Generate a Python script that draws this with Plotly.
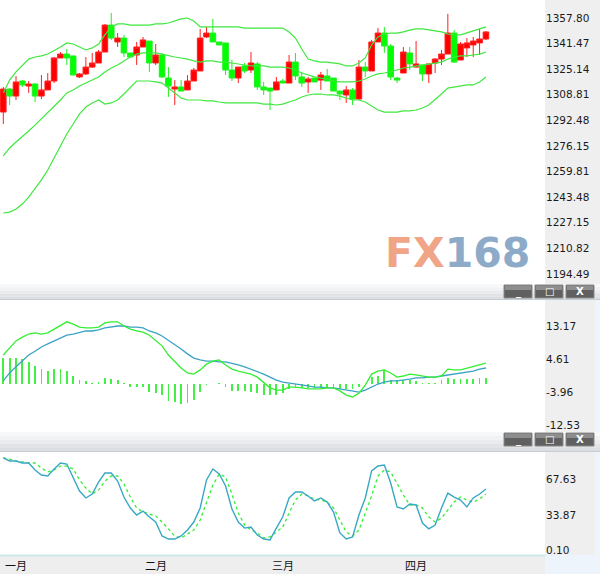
import plotly.graph_objects as go

# ---------------- data ----------------
idx = list(range(77))

open_ = [1297.8, 1312.5, 1308.0, 1317.6, 1314.4, 1315.7, 1308.0, 1311.9, 1317.6, 1332.3,
         1334.8, 1333.6, 1320.2, 1322.1, 1326.5, 1329.1, 1336.1, 1353.3, 1342.5, 1345.0,
         1335.5, 1334.2, 1339.3, 1343.1, 1329.1, 1334.2, 1319.5, 1312.5, 1313.8, 1311.9,
         1317.6, 1324.0, 1345.7, 1348.2, 1342.5, 1341.9, 1324.6, 1319.5, 1327.2, 1324.6,
         1328.5, 1313.8, 1313.1, 1311.9, 1317.6, 1316.3, 1329.7, 1320.2, 1317.0, 1319.5,
         1318.2, 1320.8, 1319.5, 1311.2, 1308.7, 1311.9, 1306.1, 1326.5, 1324.0, 1342.5,
         1348.2, 1339.9, 1319.5, 1322.7, 1335.5, 1326.5, 1327.8, 1322.1, 1329.1, 1331.6,
         1334.8, 1348.2, 1331.0, 1338.7, 1340.6, 1341.9, 1344.4]
high = [1313.8, 1313.1, 1320.8, 1318.2, 1317.6, 1316.3, 1321.4, 1322.7, 1332.9, 1336.1,
        1338.0, 1333.6, 1322.7, 1332.9, 1335.5, 1337.4, 1354.0, 1361.0, 1348.2, 1347.0,
        1335.5, 1342.5, 1345.7, 1343.1, 1341.2, 1335.5, 1326.5, 1318.2, 1318.2, 1321.4,
        1325.9, 1350.8, 1352.1, 1357.2, 1342.5, 1341.9, 1331.0, 1326.5, 1329.1, 1336.1,
        1329.7, 1317.0, 1313.1, 1320.2, 1318.9, 1334.2, 1335.5, 1323.4, 1320.2, 1319.5,
        1323.4, 1325.3, 1319.5, 1311.2, 1314.4, 1313.1, 1331.0, 1329.7, 1343.8, 1351.4,
        1352.1, 1341.2, 1320.2, 1339.3, 1339.3, 1343.1, 1327.8, 1328.5, 1332.3, 1337.4,
        1360.4, 1350.1, 1342.5, 1345.0, 1345.7, 1350.8, 1349.5]
low = [1290.2, 1302.3, 1305.5, 1313.8, 1310.0, 1304.2, 1306.1, 1311.9, 1316.3, 1332.3,
       1327.8, 1321.4, 1319.5, 1321.4, 1325.9, 1329.1, 1336.1, 1343.8, 1339.3, 1332.9,
       1332.9, 1327.8, 1339.3, 1323.4, 1327.8, 1319.5, 1307.4, 1302.3, 1311.2, 1311.9,
       1317.6, 1324.0, 1345.0, 1342.5, 1340.6, 1321.4, 1317.6, 1316.3, 1322.7, 1322.7,
       1311.9, 1308.7, 1299.1, 1311.9, 1316.3, 1316.3, 1318.2, 1313.8, 1310.0, 1317.0,
       1311.9, 1317.6, 1311.2, 1305.5, 1303.6, 1302.3, 1305.5, 1320.2, 1324.0, 1342.5,
       1335.5, 1318.2, 1316.3, 1322.7, 1324.6, 1325.9, 1317.6, 1316.3, 1322.7, 1327.8,
       1334.8, 1329.1, 1331.0, 1332.9, 1332.9, 1334.2, 1343.8]
close = [1312.5, 1308.0, 1317.0, 1315.1, 1315.7, 1308.0, 1311.9, 1317.6, 1332.3, 1334.8,
         1332.3, 1321.4, 1322.1, 1326.5, 1329.1, 1336.1, 1353.3, 1345.0, 1345.0, 1335.5,
         1332.9, 1339.3, 1343.8, 1329.1, 1334.2, 1320.2, 1314.4, 1313.8, 1311.2, 1317.6,
         1324.6, 1345.0, 1348.2, 1342.5, 1340.6, 1324.6, 1319.5, 1326.5, 1324.0, 1329.1,
         1313.8, 1311.9, 1311.2, 1317.0, 1316.3, 1329.7, 1320.8, 1316.3, 1318.9, 1317.0,
         1321.4, 1317.6, 1311.2, 1309.3, 1311.9, 1306.1, 1326.5, 1324.0, 1342.5, 1348.2,
         1339.9, 1320.2, 1318.2, 1336.1, 1328.5, 1328.5, 1322.1, 1328.5, 1331.6, 1334.8,
         1348.2, 1329.7, 1341.2, 1341.9, 1343.1, 1344.4, 1348.9]

boll_upper = [1310.0, 1318.2, 1323.4, 1327.2, 1331.6, 1332.9, 1333.6, 1334.8, 1336.8, 1339.3,
              1341.9, 1341.2, 1339.3, 1337.4, 1338.7, 1341.2, 1347.0, 1352.1, 1354.0, 1354.0,
              1353.3, 1353.3, 1353.3, 1353.3, 1354.0, 1354.0, 1354.6, 1355.9, 1357.2, 1357.8,
              1355.9, 1352.1, 1352.1, 1352.1, 1352.1, 1352.1, 1352.1, 1352.1, 1351.4, 1351.4,
              1351.4, 1351.4, 1351.4, 1351.4, 1351.4, 1348.9, 1345.0, 1338.0, 1331.6, 1330.4,
              1329.7, 1329.7, 1329.1, 1328.5, 1327.2, 1327.2, 1329.1, 1332.3, 1340.6, 1345.7,
              1347.6, 1348.2, 1348.2, 1348.9, 1350.1, 1350.8, 1350.8, 1350.1, 1349.5, 1348.9,
              1347.6, 1347.0, 1347.0, 1348.2, 1349.5, 1350.8, 1352.1]
boll_mid = [1269.8, 1274.9, 1278.7, 1281.9, 1285.7, 1289.5, 1293.4, 1297.8, 1301.7, 1305.5,
            1310.0, 1311.9, 1314.4, 1316.3, 1318.2, 1320.2, 1323.4, 1325.9, 1327.8, 1330.4,
            1332.9, 1334.8, 1335.5, 1335.5, 1335.5, 1334.8, 1333.6, 1332.9, 1332.3, 1331.6,
            1330.4, 1329.7, 1330.4, 1330.4, 1329.7, 1329.7, 1329.1, 1328.5, 1327.8, 1327.2,
            1327.2, 1327.2, 1326.5, 1326.5, 1326.5, 1325.9, 1324.6, 1322.7, 1321.4, 1320.2,
            1319.5, 1318.9, 1317.6, 1317.0, 1317.0, 1317.0, 1317.6, 1318.9, 1320.8, 1322.1,
            1322.7, 1323.4, 1324.6, 1325.9, 1326.5, 1327.2, 1327.8, 1328.5, 1329.1, 1329.7,
            1331.6, 1332.9, 1333.6, 1333.6, 1334.2, 1334.8, 1336.1]
boll_lower = [1233.4, 1234.0, 1236.0, 1239.1, 1243.6, 1248.7, 1254.5, 1260.8, 1268.5, 1276.8,
              1283.8, 1290.2, 1296.6, 1301.0, 1303.6, 1305.5, 1302.9, 1303.6, 1305.5, 1309.3,
              1313.8, 1317.6, 1317.6, 1317.6, 1317.0, 1316.3, 1313.1, 1310.0, 1306.8, 1305.5,
              1305.5, 1305.5, 1304.9, 1304.9, 1304.2, 1303.6, 1303.6, 1303.6, 1303.6, 1303.6,
              1303.6, 1302.9, 1302.9, 1302.3, 1302.9, 1304.2, 1305.5, 1307.4, 1308.7, 1309.3,
              1309.3, 1308.7, 1308.7, 1308.0, 1306.8, 1305.5, 1305.5, 1304.2, 1301.7, 1299.1,
              1297.8, 1297.8, 1297.8, 1298.5, 1298.5, 1299.1, 1300.4, 1302.3, 1305.5, 1309.3,
              1313.1, 1313.8, 1314.4, 1315.1, 1315.1, 1317.0, 1320.2]

macd_dif = [7.6, 9.4, 11.3, 12.3, 13.1, 13.4, 13.1, 13.4, 14.4, 15.5,
            16.3, 15.7, 14.9, 14.7, 14.7, 14.9, 16.0, 16.3, 16.3, 15.2,
            14.4, 13.9, 13.6, 12.8, 11.3, 10.0, 7.6, 5.8, 4.2, 2.9,
            2.6, 3.7, 5.2, 6.0, 6.3, 5.0, 3.9, 3.4, 2.9, 2.6,
            1.8, 0.3, -1.0, -1.6, -1.6, -0.8, -0.8, -1.0, -1.3, -1.3,
            -1.3, -1.0, -1.0, -1.8, -2.9, -3.4, -2.4, -0.3, 2.6, 3.4,
            3.7, 2.9, 1.8, 2.1, 2.6, 2.4, 2.1, 1.8, 1.8, 2.1,
            3.9, 3.7, 3.7, 4.2, 4.5, 5.0, 5.5]
macd_dea = [0.8, 2.9, 4.5, 6.0, 7.6, 8.6, 9.7, 10.5, 11.3, 12.1,
            12.8, 13.1, 13.6, 13.9, 13.9, 14.2, 14.7, 14.9, 15.2, 15.2,
            14.9, 14.9, 14.7, 13.9, 13.4, 12.6, 11.5, 10.5, 9.2, 7.9,
            6.8, 6.3, 6.0, 6.0, 5.8, 5.8, 5.5, 5.0, 4.5, 3.9,
            3.1, 2.6, 1.8, 1.0, 0.5, 0.3, 0.0, -0.3, -0.5, -0.8,
            -0.8, -1.0, -1.0, -1.3, -1.6, -1.8, -2.1, -1.6, -0.8, 0.0,
            0.5, 0.8, 0.8, 1.0, 1.3, 1.6, 1.6, 1.8, 1.8, 2.1,
            2.4, 2.6, 2.9, 3.1, 3.4, 3.9, 4.2]
macd_hist = [6.8, 6.8, 6.8, 6.6, 5.8, 4.7, 3.9, 3.4, 3.9, 3.9,
             3.4, 2.1, 1.0, 0.8, 0.3, 0.5, 1.6, 1.3, 1.0, 0.3,
             -0.8, -0.8, -0.8, -2.1, -2.4, -2.9, -4.5, -4.7, -5.2, -5.0,
             -4.2, -2.1, -0.3, -0.1, 0.3, -0.8, -1.8, -1.8, -1.8, -2.1,
             -2.4, -2.9, -2.9, -2.9, -2.4, -1.3, -1.0, -1.0, -1.0, -1.0,
             -1.0, -1.0, -1.3, -1.3, -1.3, -1.3, -0.8, 0.1, 1.8, 2.1,
             3.7, 1.0, 1.0, 1.0, 1.0, 0.8, 0.3, 0.3, 0.3, 1.0,
             1.6, 1.3, 1.3, 1.3, 1.3, 1.6, 1.6]

stoch_k = [88.2, 85.3, 85.3, 83.4, 83.4, 76.7, 71.9, 71.0, 77.7, 83.4,
           82.4, 70.0, 56.6, 50.0, 53.8, 65.2, 73.8, 73.8, 66.2, 50.9,
           40.4, 33.7, 37.5, 31.8, 27.0, 13.7, 10.8, 10.8, 13.7, 19.4,
           27.0, 40.4, 67.2, 77.7, 72.9, 61.4, 39.5, 27.0, 21.2, 22.2,
           14.6, 10.8, 9.9, 21.2, 31.8, 50.0, 55.7, 55.7, 51.9, 47.1,
           50.0, 46.1, 36.6, 16.6, 10.8, 12.8, 33.7, 50.0, 75.8, 80.5,
           81.5, 64.3, 41.4, 39.5, 44.2, 43.3, 26.1, 20.5, 24.2, 40.4,
           54.7, 50.9, 48.0, 41.4, 50.0, 53.8, 58.6]
stoch_d = [88.2, 87.2, 85.3, 84.3, 83.4, 83.4, 78.6, 74.8, 76.7, 80.5,
           80.5, 77.7, 67.2, 59.5, 53.8, 57.6, 66.2, 71.0, 71.0, 63.3,
           50.9, 40.4, 36.6, 34.7, 32.8, 27.0, 20.3, 13.7, 11.8, 15.6,
           19.4, 28.9, 45.2, 62.4, 72.9, 70.0, 53.8, 35.6, 24.2, 19.4,
           16.6, 11.8, 12.8, 17.5, 22.2, 35.6, 48.0, 53.8, 51.9, 49.0,
           48.0, 46.1, 40.4, 28.9, 17.5, 13.7, 19.4, 35.6, 51.9, 71.0,
           76.7, 74.8, 63.3, 52.8, 43.3, 43.3, 40.4, 31.8, 27.0, 30.8,
           38.5, 46.1, 50.9, 48.0, 46.1, 49.0, 53.8]

month_labels = ["一月", "二月", "三月", "四月"]
month_pos = [0, 22, 42, 63]

price_ticks = [1357.80, 1341.47, 1325.14, 1308.81, 1292.48, 1276.15, 1259.81,
               1243.48, 1227.15, 1210.82, 1194.49]
macd_ticks = [13.17, 4.61, -3.96, -12.53]
stoch_ticks = [67.63, 33.87, 0.10]

# ---------------- layout helpers ----------------
W, H = 600, 574
PX = 545  # right edge of plot areas


def py(y):  # pixel row -> paper fraction
    return 1 - y / H


fig = go.Figure()

fig.add_trace(go.Candlestick(
    x=idx, open=open_, high=high, low=low, close=close,
    increasing=dict(line=dict(color="#ff2020", width=1), fillcolor="#ff0000"),
    decreasing=dict(line=dict(color="#20f020", width=1), fillcolor="#00ff00"),
    whiskerwidth=0, xaxis="x", yaxis="y", hoverinfo="skip"))

for band in (boll_upper, boll_mid, boll_lower):
    fig.add_trace(go.Scatter(x=idx, y=band, mode="lines",
                             line=dict(color="#3ee83e", width=1.2),
                             xaxis="x", yaxis="y", hoverinfo="skip"))

fig.add_trace(go.Bar(x=idx, y=macd_hist, width=0.28,
                     marker=dict(color="#44f044", line=dict(width=0)),
                     xaxis="x", yaxis="y2", hoverinfo="skip"))
fig.add_trace(go.Scatter(x=idx, y=macd_dea, mode="lines",
                         line=dict(color="#3aa3c4", width=1.3), xaxis="x", yaxis="y2"))
fig.add_trace(go.Scatter(x=idx, y=macd_dif, mode="lines",
                         line=dict(color="#33ee33", width=1.3), xaxis="x", yaxis="y2"))

fig.add_trace(go.Scatter(x=idx, y=stoch_d, mode="lines",
                         line=dict(color="#33ee33", width=1.3, dash="dot"), xaxis="x", yaxis="y3"))
fig.add_trace(go.Scatter(x=idx, y=stoch_k, mode="lines",
                         line=dict(color="#38a8c4", width=1.4), xaxis="x", yaxis="y3"))

tickfont = dict(family="DejaVu Sans, Verdana, sans-serif", size=10.5, color="#1a1a1a")
common_y = dict(side="right", anchor="x", showgrid=False, zeroline=False, showline=False,
                ticks="", tickfont=tickfont, fixedrange=True, automargin=False)

shapes = []
# grey axis columns
shapes.append(dict(type="rect", xref="paper", yref="paper", x0=PX / W, x1=1,
                   y0=py(284), y1=1, fillcolor="#efefef", line=dict(width=0), layer="below"))
shapes.append(dict(type="rect", xref="paper", yref="paper", x0=PX / W, x1=595 / W,
                   y0=py(432), y1=py(300), fillcolor="#efefef", line=dict(width=0), layer="below"))
shapes.append(dict(type="rect", xref="paper", yref="paper", x0=PX / W, x1=595 / W,
                   y0=py(555), y1=py(452), fillcolor="#efefef", line=dict(width=0), layer="below"))
shapes.append(dict(type="rect", xref="paper", yref="paper", x0=595 / W, x1=1,
                   y0=0, y1=py(284), fillcolor="#eef4fb", line=dict(width=0), layer="below"))
shapes.append(dict(type="rect", xref="paper", yref="paper", x0=PX / W, x1=1,
                   y0=0, y1=py(555), fillcolor="#eef4fb", line=dict(width=0), layer="below"))
# bottom axis band
shapes.append(dict(type="rect", xref="paper", yref="paper", x0=0, x1=PX / W,
                   y0=0, y1=py(555), fillcolor="#eeeeee", line=dict(width=0), layer="below"))
shapes.append(dict(type="line", xref="paper", yref="paper", x0=0, x1=PX / W,
                   y0=py(555.5), y1=py(555.5), line=dict(color="#cde8e8", width=2)))

# panel title bars
for top, bot in ((284, 300), (432, 452)):
    h = bot - top
    shades = ["#f7f8f9", "#f1f2f4", "#e9ebed", "#e1e3e6", "#dcdee2"]
    for k, c in enumerate(shades):
        shapes.append(dict(type="rect", xref="paper", yref="paper", x0=0, x1=1,
                           y0=py(top + h * (k + 1) / len(shades)), y1=py(top + h * k / len(shades)),
                           fillcolor=c, line=dict(width=0), layer="above"))
    shapes.append(dict(type="line", xref="paper", yref="paper", x0=0, x1=1,
                       y0=py(bot - 0.5), y1=py(bot - 0.5), line=dict(color="#c4ccd6", width=1)))
    # buttons
    for bx0, bx1 in ((504, 532), (535, 563), (566, 594)):
        shapes.append(dict(type="rect", xref="paper", yref="paper", x0=bx0 / W, x1=bx1 / W,
                           y0=py(top + 14), y1=py(top + 1), fillcolor="#606060",
                           line=dict(color="#8a8a8a", width=1), layer="above"))
        shapes.append(dict(type="rect", xref="paper", yref="paper", x0=(bx0 + 1) / W, x1=(bx1 - 1) / W,
                           y0=py(top + 6), y1=py(top + 1.5), fillcolor="#8e8e8e",
                           line=dict(width=0), layer="above"))

annotations = []
for top in (284, 432):
    for cx, sym in ((518, "_"), (549, "□"), (580, "X")):
        annotations.append(dict(xref="paper", yref="paper", x=cx / W, y=py(top + 7.5),
                                text="<b>%s</b>" % sym, showarrow=False,
                                font=dict(family="DejaVu Sans", size=10, color="white"),
                                xanchor="center", yanchor="middle"))

for lab, pos in zip(month_labels, month_pos):
    annotations.append(dict(xref="x", yref="paper", x=pos, y=py(564.5), text=lab,
                            showarrow=False, xanchor="left", yanchor="middle", xshift=0,
                            font=dict(family="Noto Sans CJK SC", size=11, color="#111")))

# watermark
annotations.append(dict(xref="paper", yref="paper", x=383 / W, y=py(253),
                        text="<b><span style='color:#f1a587'>FX</span>"
                             "<span style='color:#8dabc8'>168</span></b>",
                        showarrow=False, xanchor="left", yanchor="middle",
                        font=dict(family="DejaVu Sans", size=41)))

fig.update_layout(
    width=W, height=H, margin=dict(l=0, r=0, t=0, b=0),
    paper_bgcolor="white", plot_bgcolor="white", showlegend=False,
    bargap=0, boxgap=0.12, boxgroupgap=0,
    xaxis=dict(domain=[0, PX / W], range=[-0.52, 85.3], anchor="y3",
               showticklabels=False, showgrid=False, zeroline=False, ticks="",
               rangeslider=dict(visible=False), fixedrange=True, automargin=False),
    yaxis=dict(domain=[py(284), 1], range=[1188.12, 1369.28],
               tickvals=price_ticks, ticktext=["%.2f" % v for v in price_ticks], **common_y),
    yaxis2=dict(domain=[py(433), py(300)], range=[-12.84, 22.02],
                tickvals=macd_ticks, ticktext=["%.2f" % v for v in macd_ticks],
                ticklabelshift=-7, **common_y),
    yaxis3=dict(domain=[py(555), py(452)], range=[-4.47, 93.9],
                tickvals=stoch_ticks, ticktext=["%.2f" % v for v in stoch_ticks], **common_y),
    shapes=shapes, annotations=annotations,
)

fig.write_html("out.html", config={"displayModeBar": False, "staticPlot": True},
               post_script="document.body.style.margin='0';document.body.style.overflow='hidden';")
